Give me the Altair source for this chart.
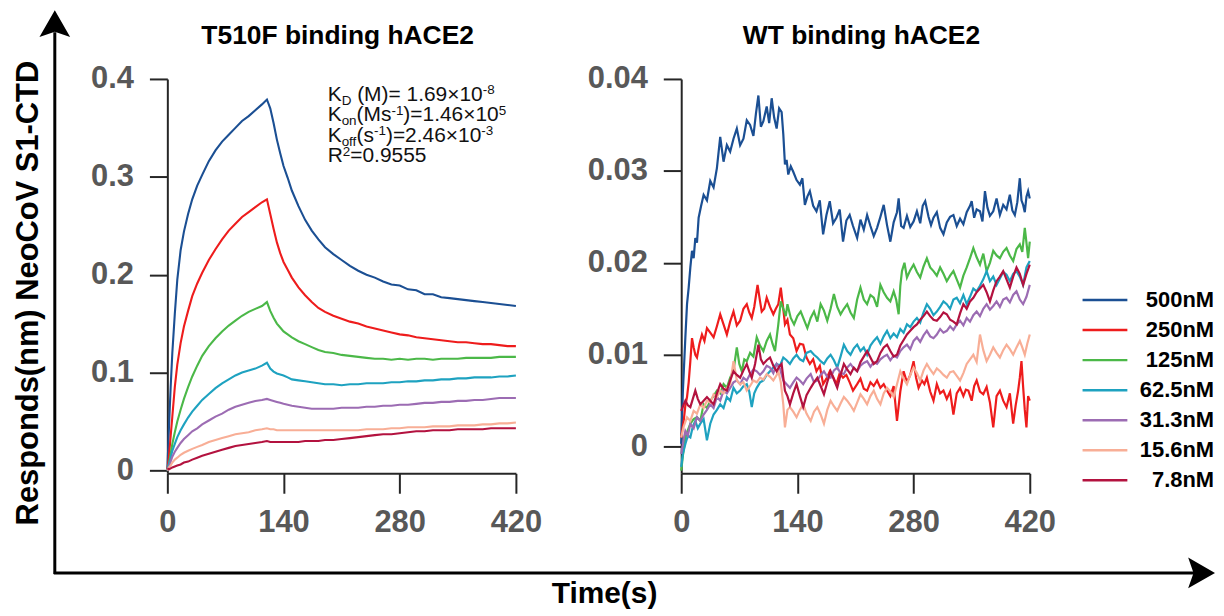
import altair as alt
import pandas as pd

FONT = "Liberation Sans"

# ---------------- data ----------------
SERIES = ["500nM", "250nM", "125nM", "62.5nM", "31.3nM", "15.6nM", "7.8nM"]
COLORS = ["#1b4f93", "#ee1c1c", "#4bb848", "#1ea2c0", "#9c6cb3", "#f8ae96", "#b3123f"]

X_TICKS = [0, 140, 280, 420]
T510F_Y_TICKS = [0, 0.1, 0.2, 0.3, 0.4]
WT_Y_TICKS = [0, 0.01, 0.02, 0.03, 0.04]

T510F_TITLE = "T510F binding hACE2"
WT_TITLE = "WT binding hACE2"
Y_TITLE = "Responds(nm) NeoCoV S1-CTD"
X_TITLE = "Time(s)"

KINETICS = [
    [("K", "base"), ("D", "sub"), (" (M)= 1.69×10", "base"), ("-8", "sup")],
    [("K", "base"), ("on", "sub"), ("(Ms", "base"), ("-1", "sup"), (")=1.46×10", "base"), ("5", "sup")],
    [("K", "base"), ("off", "sub"), ("(s", "base"), ("-1", "sup"), (")=2.46×10", "base"), ("-3", "sup")],
    [("R", "base"), ("2", "sup"), ("=0.9555", "base")],
]

T510F_TIME = [0, 2, 4, 6, 9, 12, 16, 20, 25, 30, 36, 42, 50, 58, 66, 74, 82, 90, 98, 106,
              114, 120, 124, 128, 132, 136, 140, 145, 150, 158, 166, 174, 182, 190, 200, 210, 220, 230, 240, 250,
              260, 270, 280, 290, 300, 310, 320, 330, 340, 350, 360, 370, 380, 390, 400, 410, 420]
T510F_500 = [0, 0.045, 0.085, 0.120, 0.160, 0.195, 0.225, 0.244, 0.262, 0.277,
             0.291, 0.302, 0.316, 0.327, 0.336, 0.343, 0.350, 0.357, 0.362, 0.368,
             0.374, 0.379, 0.370, 0.355, 0.338, 0.324, 0.311, 0.299, 0.286, 0.270,
             0.256, 0.245, 0.236, 0.228, 0.221, 0.215, 0.209, 0.204, 0.200, 0.197,
             0.193, 0.190, 0.189, 0.185, 0.184, 0.180, 0.180, 0.177, 0.176, 0.175,
             0.174, 0.173, 0.172, 0.171, 0.170, 0.169, 0.168]
T510F_250 = [0, 0.015, 0.035, 0.055, 0.085, 0.108, 0.130, 0.147, 0.163, 0.178,
             0.191, 0.202, 0.215, 0.226, 0.236, 0.245, 0.252, 0.259, 0.264, 0.269,
             0.274, 0.277, 0.262, 0.247, 0.233, 0.222, 0.213, 0.205, 0.197, 0.187,
             0.179, 0.172, 0.166, 0.162, 0.158, 0.155, 0.152, 0.150, 0.147, 0.145,
             0.143, 0.141, 0.139, 0.138, 0.136, 0.135, 0.134, 0.133, 0.132, 0.131,
             0.131, 0.130, 0.129, 0.129, 0.128, 0.127, 0.127]
T510F_125 = [0, 0.007, 0.017, 0.027, 0.039, 0.050, 0.062, 0.073, 0.085, 0.096,
             0.107, 0.117, 0.127, 0.135, 0.142, 0.148, 0.153, 0.158, 0.162, 0.165,
             0.168, 0.172, 0.163, 0.156, 0.150, 0.146, 0.142, 0.139, 0.136, 0.132,
             0.129, 0.126, 0.123, 0.121, 0.120, 0.118, 0.117, 0.116, 0.115, 0.114,
             0.114, 0.113, 0.114, 0.113, 0.114, 0.114, 0.113, 0.114, 0.114, 0.114,
             0.115, 0.115, 0.115, 0.115, 0.116, 0.116, 0.116]
T510F_62 = [0, 0.007, 0.013, 0.020, 0.027, 0.034, 0.041, 0.047, 0.054, 0.060,
            0.066, 0.072, 0.078, 0.084, 0.089, 0.093, 0.097, 0.100, 0.102, 0.104,
            0.107, 0.110, 0.104, 0.101, 0.099, 0.098, 0.097, 0.095, 0.093, 0.092,
            0.091, 0.090, 0.089, 0.088, 0.088, 0.087, 0.088, 0.088, 0.089, 0.089,
            0.089, 0.090, 0.090, 0.091, 0.091, 0.092, 0.092, 0.093, 0.093, 0.094,
            0.094, 0.095, 0.095, 0.095, 0.096, 0.096, 0.097]
T510F_31 = [0, 0.004, 0.009, 0.014, 0.019, 0.023, 0.028, 0.032, 0.036, 0.040,
            0.043, 0.047, 0.051, 0.055, 0.058, 0.062, 0.065, 0.067, 0.069, 0.071,
            0.072, 0.073, 0.072, 0.071, 0.070, 0.069, 0.068, 0.067, 0.066, 0.065,
            0.064, 0.063, 0.063, 0.063, 0.063, 0.064, 0.064, 0.064, 0.065, 0.065,
            0.066, 0.066, 0.067, 0.067, 0.068, 0.069, 0.069, 0.070, 0.070, 0.071,
            0.071, 0.072, 0.072, 0.073, 0.074, 0.074, 0.074]
T510F_15 = [0, 0.003, 0.005, 0.008, 0.011, 0.013, 0.016, 0.018, 0.020, 0.022,
            0.024, 0.026, 0.029, 0.031, 0.033, 0.035, 0.037, 0.038, 0.039, 0.041,
            0.042, 0.043, 0.042, 0.042, 0.041, 0.041, 0.041, 0.041, 0.041, 0.041,
            0.041, 0.041, 0.041, 0.041, 0.041, 0.041, 0.041, 0.041, 0.042, 0.042,
            0.042, 0.043, 0.043, 0.044, 0.044, 0.044, 0.045, 0.045, 0.045, 0.046,
            0.046, 0.046, 0.047, 0.047, 0.048, 0.048, 0.049]
T510F_7 = [0.002, 0.001, 0.002, 0.003, 0.004, 0.005, 0.006, 0.008, 0.009, 0.011,
           0.013, 0.015, 0.017, 0.019, 0.021, 0.023, 0.025, 0.026, 0.027, 0.028,
           0.029, 0.030, 0.029, 0.029, 0.029, 0.029, 0.029, 0.029, 0.029, 0.029,
           0.030, 0.030, 0.030, 0.031, 0.031, 0.032, 0.033, 0.034, 0.035, 0.036,
           0.037, 0.037, 0.038, 0.039, 0.040, 0.040, 0.041, 0.041, 0.041, 0.042,
           0.042, 0.042, 0.042, 0.043, 0.043, 0.043, 0.043]

WT_500 = [(0, 0.0003), (2, 0.006), (5, 0.0119), (7, 0.0155), (9, 0.0173), (11, 0.0195), (13, 0.0213),
          (15, 0.0205), (17, 0.0227), (19, 0.0222), (21, 0.0249), (24, 0.0262), (27, 0.0274), (31, 0.0268),
          (35, 0.0289), (39, 0.0282), (43, 0.0303), (47, 0.0337), (51, 0.0310), (55, 0.0328), (59, 0.0321),
          (63, 0.0335), (67, 0.0346), (71, 0.0328), (75, 0.0335), (79, 0.0355), (83, 0.0350), (87, 0.0338),
          (90, 0.0362), (93, 0.0382), (96, 0.0348), (99, 0.0354), (103, 0.0370), (106, 0.0352), (109, 0.0379),
          (112, 0.0358), (115, 0.0346), (118, 0.0368), (121, 0.0364), (123, 0.0340), (125, 0.0307),
          (127, 0.0312), (129, 0.0296), (132, 0.0305), (135, 0.0299), (139, 0.0290), (143, 0.0285),
          (146, 0.0292), (149, 0.0263), (152, 0.0272), (155, 0.0278), (159, 0.0262), (163, 0.0256),
          (167, 0.0268), (171, 0.0231), (175, 0.0252), (179, 0.0267), (183, 0.0243), (187, 0.0249),
          (191, 0.0258), (195, 0.0223), (199, 0.0246), (203, 0.0252), (207, 0.0240), (212, 0.0227),
          (216, 0.0247), (220, 0.0236), (224, 0.0252), (228, 0.0240), (232, 0.0229), (236, 0.0238),
          (240, 0.0250), (244, 0.0263), (248, 0.0241), (252, 0.0223), (256, 0.0244), (260, 0.0255),
          (262, 0.0270), (265, 0.0240), (268, 0.0238), (272, 0.0251), (276, 0.0239), (280, 0.0245),
          (284, 0.0256), (288, 0.0243), (291, 0.0262), (294, 0.0267), (298, 0.0250), (301, 0.0241),
          (304, 0.0249), (308, 0.0255), (312, 0.0238), (316, 0.0231), (320, 0.0244), (324, 0.0250),
          (328, 0.0252), (332, 0.0240), (336, 0.0248), (340, 0.0242), (344, 0.0255), (348, 0.0262),
          (350, 0.0267), (353, 0.0249), (356, 0.0258), (360, 0.0256), (363, 0.0245), (366, 0.0278),
          (369, 0.0260), (372, 0.0251), (376, 0.0256), (380, 0.0270), (384, 0.0252), (388, 0.0263),
          (392, 0.0258), (396, 0.0274), (399, 0.0257), (402, 0.0252), (405, 0.0266), (408, 0.0292),
          (410, 0.0268), (412, 0.0263), (414, 0.0255), (416, 0.0272), (418, 0.0278), (420, 0.0270)]
WT_250 = [(0, 0.0010), (3, 0.0028), (5, 0.0045), (7, 0.0054), (9, 0.0070), (11, 0.0093), (13, 0.0118),
          (15, 0.0108), (17, 0.0100), (19, 0.0097), (22, 0.0112), (25, 0.0122), (28, 0.0115), (31, 0.0129),
          (35, 0.0124), (39, 0.0119), (43, 0.0131), (47, 0.0144), (51, 0.0133), (55, 0.0122), (59, 0.0136),
          (63, 0.0147), (67, 0.0132), (71, 0.0137), (75, 0.0150), (79, 0.0155), (82, 0.0146), (85, 0.0140),
          (88, 0.0152), (92, 0.0176), (95, 0.0158), (97, 0.0147), (100, 0.0150), (103, 0.0162), (107, 0.0152),
          (111, 0.0144), (114, 0.0150), (117, 0.0155), (120, 0.0173), (123, 0.0150), (125, 0.0133),
          (128, 0.0138), (131, 0.0122), (135, 0.0118), (139, 0.0104), (143, 0.0112), (147, 0.0111),
          (151, 0.0097), (155, 0.0090), (159, 0.0095), (163, 0.0082), (167, 0.0088), (171, 0.0068),
          (175, 0.0074), (179, 0.0082), (183, 0.0076), (187, 0.0068), (191, 0.0080), (195, 0.0075),
          (199, 0.0078), (203, 0.0070), (207, 0.0061), (212, 0.0068), (216, 0.0074), (220, 0.0063),
          (224, 0.0061), (228, 0.0070), (232, 0.0066), (236, 0.0072), (240, 0.0064), (244, 0.0068),
          (248, 0.0061), (252, 0.0055), (256, 0.0066), (260, 0.0028), (264, 0.0060), (268, 0.0082),
          (272, 0.0070), (276, 0.0078), (280, 0.0093), (283, 0.0075), (286, 0.0064), (290, 0.0072),
          (293, 0.0068), (296, 0.0075), (300, 0.0060), (304, 0.0050), (308, 0.0068), (312, 0.0058),
          (316, 0.0061), (320, 0.0052), (324, 0.0060), (328, 0.0035), (332, 0.0058), (336, 0.0064),
          (340, 0.0055), (343, 0.0062), (346, 0.0061), (350, 0.0050), (353, 0.0066), (356, 0.0072),
          (360, 0.0060), (364, 0.0057), (368, 0.0065), (372, 0.0048), (376, 0.0021), (380, 0.0055),
          (384, 0.0061), (388, 0.0050), (392, 0.0043), (396, 0.0058), (400, 0.0025), (403, 0.0045),
          (406, 0.0061), (408, 0.0075), (410, 0.0093), (412, 0.0065), (414, 0.0040), (416, 0.0021),
          (418, 0.0055), (420, 0.0050)]
WT_125 = [(0, -0.0026), (2, -0.0010), (5, 0.0010), (8, 0.0018), (11, 0.0025), (15, 0.0030), (19, 0.0032),
          (23, 0.0028), (27, 0.0046), (31, 0.0042), (35, 0.0050), (39, 0.0055), (43, 0.0061), (47, 0.0058),
          (51, 0.0068), (55, 0.0064), (59, 0.0075), (63, 0.0083), (67, 0.0108), (70, 0.0090), (73, 0.0082),
          (76, 0.0095), (79, 0.0093), (83, 0.0102), (87, 0.0098), (91, 0.0119), (95, 0.0110), (99, 0.0104),
          (103, 0.0115), (107, 0.0122), (110, 0.0112), (113, 0.0104), (117, 0.0133), (120, 0.0158),
          (123, 0.0150), (126, 0.0142), (128, 0.0155), (132, 0.0140), (136, 0.0133), (140, 0.0142),
          (144, 0.0147), (148, 0.0138), (152, 0.0129), (156, 0.0140), (160, 0.0147), (164, 0.0136),
          (168, 0.0155), (172, 0.0148), (176, 0.0137), (180, 0.0150), (184, 0.0166), (188, 0.0152),
          (192, 0.0144), (196, 0.0150), (200, 0.0155), (204, 0.0146), (208, 0.0140), (212, 0.0160),
          (216, 0.0173), (220, 0.0160), (224, 0.0155), (228, 0.0165), (232, 0.0162), (236, 0.0152),
          (240, 0.0176), (244, 0.0168), (248, 0.0162), (252, 0.0158), (256, 0.0169), (259, 0.0160),
          (262, 0.0144), (264, 0.0175), (266, 0.0191), (269, 0.0200), (272, 0.0184), (276, 0.0192),
          (280, 0.0198), (284, 0.0190), (288, 0.0184), (292, 0.0196), (296, 0.0205), (300, 0.0195),
          (304, 0.0191), (308, 0.0186), (312, 0.0195), (316, 0.0188), (320, 0.0180), (324, 0.0186),
          (328, 0.0191), (332, 0.0182), (336, 0.0173), (340, 0.0186), (344, 0.0195), (348, 0.0205),
          (352, 0.0216), (356, 0.0206), (360, 0.0198), (364, 0.0210), (368, 0.0191), (372, 0.0200),
          (376, 0.0213), (380, 0.0208), (384, 0.0205), (388, 0.0212), (392, 0.0216), (396, 0.0208),
          (400, 0.0202), (404, 0.0215), (408, 0.0220), (411, 0.0212), (414, 0.0238), (416, 0.0222),
          (418, 0.0205), (420, 0.0223)]
WT_62 = [(0, -0.0022), (2, -0.0008), (5, 0.0003), (8, 0.0012), (11, 0.0010), (14, 0.0022), (17, 0.0028),
         (20, 0.0020), (23, 0.0025), (27, 0.0030), (31, 0.0007), (35, 0.0025), (39, 0.0035), (43, 0.0040),
         (47, 0.0046), (51, 0.0042), (55, 0.0054), (59, 0.0050), (63, 0.0064), (67, 0.0058), (71, 0.0061),
         (75, 0.0066), (79, 0.0068), (82, 0.0060), (85, 0.0043), (88, 0.0058), (91, 0.0064), (95, 0.0070),
         (99, 0.0072), (103, 0.0078), (107, 0.0082), (111, 0.0086), (115, 0.0090), (119, 0.0088),
         (123, 0.0097), (127, 0.0094), (131, 0.0090), (135, 0.0096), (139, 0.0100), (143, 0.0095),
         (147, 0.0093), (151, 0.0102), (156, 0.0104), (160, 0.0100), (164, 0.0097), (168, 0.0093),
         (172, 0.0090), (176, 0.0096), (180, 0.0100), (184, 0.0094), (188, 0.0086), (192, 0.0098),
         (196, 0.0111), (200, 0.0104), (204, 0.0100), (208, 0.0107), (212, 0.0111), (216, 0.0104),
         (220, 0.0108), (224, 0.0100), (228, 0.0110), (232, 0.0115), (236, 0.0119), (240, 0.0112),
         (244, 0.0120), (248, 0.0126), (252, 0.0118), (256, 0.0123), (260, 0.0119), (264, 0.0128),
         (268, 0.0124), (272, 0.0133), (276, 0.0130), (280, 0.0136), (284, 0.0140), (288, 0.0135),
         (292, 0.0146), (296, 0.0155), (300, 0.0150), (304, 0.0143), (308, 0.0147), (312, 0.0152),
         (316, 0.0158), (320, 0.0155), (324, 0.0150), (328, 0.0160), (332, 0.0162), (336, 0.0156),
         (340, 0.0165), (344, 0.0155), (348, 0.0163), (352, 0.0172), (356, 0.0169), (360, 0.0175),
         (364, 0.0182), (368, 0.0191), (372, 0.0180), (376, 0.0185), (380, 0.0176), (384, 0.0183),
         (388, 0.0190), (392, 0.0187), (396, 0.0180), (400, 0.0188), (404, 0.0191), (408, 0.0185),
         (412, 0.0176), (416, 0.0195), (420, 0.0202)]
WT_31 = [(0, -0.0008), (3, 0.0008), (5, 0.0017), (8, 0.0012), (11, 0.0025), (15, 0.0020), (19, 0.0032),
         (23, 0.0028), (27, 0.0035), (31, 0.0040), (35, 0.0046), (39, 0.0042), (43, 0.0054), (47, 0.0050),
         (51, 0.0061), (55, 0.0058), (59, 0.0064), (63, 0.0070), (67, 0.0072), (71, 0.0068), (75, 0.0075),
         (79, 0.0072), (83, 0.0079), (87, 0.0084), (91, 0.0082), (95, 0.0078), (99, 0.0082), (103, 0.0088),
         (107, 0.0086), (111, 0.0080), (115, 0.0090), (119, 0.0085), (123, 0.0072), (127, 0.0068),
         (131, 0.0064), (135, 0.0070), (139, 0.0075), (143, 0.0072), (147, 0.0068), (151, 0.0074),
         (156, 0.0079), (160, 0.0070), (164, 0.0072), (168, 0.0078), (172, 0.0082), (176, 0.0076),
         (180, 0.0075), (184, 0.0083), (188, 0.0086), (192, 0.0080), (196, 0.0079), (200, 0.0086),
         (204, 0.0090), (208, 0.0085), (212, 0.0082), (216, 0.0088), (220, 0.0091), (224, 0.0093),
         (228, 0.0087), (232, 0.0092), (236, 0.0090), (240, 0.0095), (244, 0.0098), (248, 0.0100),
         (252, 0.0094), (256, 0.0099), (260, 0.0097), (264, 0.0104), (268, 0.0108), (272, 0.0111),
         (276, 0.0106), (280, 0.0115), (284, 0.0119), (288, 0.0114), (292, 0.0121), (296, 0.0126),
         (300, 0.0120), (304, 0.0118), (308, 0.0122), (312, 0.0128), (316, 0.0124), (320, 0.0126),
         (324, 0.0131), (328, 0.0127), (332, 0.0133), (336, 0.0137), (340, 0.0132), (344, 0.0140),
         (348, 0.0136), (352, 0.0143), (356, 0.0147), (360, 0.0142), (364, 0.0150), (368, 0.0155),
         (372, 0.0149), (376, 0.0153), (380, 0.0158), (384, 0.0152), (388, 0.0160), (392, 0.0162),
         (396, 0.0157), (400, 0.0165), (404, 0.0169), (408, 0.0160), (412, 0.0155), (416, 0.0163),
         (420, 0.0176)]
WT_15 = [(0, 0.0010), (3, 0.0022), (7, 0.0032), (11, 0.0028), (15, 0.0039), (19, 0.0036), (23, 0.0046),
         (27, 0.0042), (31, 0.0050), (35, 0.0048), (39, 0.0057), (43, 0.0054), (47, 0.0061), (51, 0.0058),
         (55, 0.0064), (59, 0.0068), (63, 0.0093), (67, 0.0072), (71, 0.0068), (75, 0.0070), (79, 0.0061),
         (83, 0.0066), (87, 0.0072), (91, 0.0070), (95, 0.0075), (99, 0.0073), (103, 0.0079), (107, 0.0076),
         (111, 0.0072), (115, 0.0078), (117, 0.0082), (120, 0.0070), (123, 0.0046), (125, 0.0021),
         (128, 0.0040), (131, 0.0043), (135, 0.0038), (139, 0.0032), (143, 0.0040), (147, 0.0046),
         (151, 0.0036), (156, 0.0028), (160, 0.0038), (164, 0.0043), (168, 0.0035), (172, 0.0025),
         (176, 0.0040), (180, 0.0050), (184, 0.0044), (188, 0.0039), (192, 0.0047), (196, 0.0054),
         (200, 0.0050), (204, 0.0045), (208, 0.0039), (212, 0.0048), (216, 0.0057), (220, 0.0052),
         (224, 0.0046), (228, 0.0055), (232, 0.0061), (236, 0.0052), (240, 0.0046), (244, 0.0058),
         (248, 0.0064), (252, 0.0060), (256, 0.0054), (260, 0.0068), (264, 0.0082), (268, 0.0074),
         (272, 0.0068), (276, 0.0078), (280, 0.0086), (284, 0.0080), (288, 0.0072), (292, 0.0083),
         (296, 0.0090), (300, 0.0084), (304, 0.0079), (308, 0.0085), (312, 0.0082), (316, 0.0078),
         (320, 0.0075), (324, 0.0081), (328, 0.0082), (332, 0.0077), (336, 0.0072), (340, 0.0080),
         (344, 0.0090), (348, 0.0095), (352, 0.0100), (356, 0.0092), (360, 0.0122), (364, 0.0105),
         (368, 0.0093), (372, 0.0100), (376, 0.0108), (380, 0.0102), (384, 0.0097), (388, 0.0105),
         (392, 0.0111), (396, 0.0106), (400, 0.0100), (404, 0.0108), (408, 0.0115), (411, 0.0108),
         (414, 0.0100), (417, 0.0112), (420, 0.0122)]
WT_7 = [(0, 0.0039), (3, 0.0046), (5, 0.0050), (8, 0.0045), (11, 0.0043), (14, 0.0052), (17, 0.0061),
        (20, 0.0052), (23, 0.0046), (27, 0.0050), (31, 0.0054), (35, 0.0050), (39, 0.0046), (43, 0.0058),
        (47, 0.0068), (51, 0.0063), (55, 0.0061), (59, 0.0072), (63, 0.0082), (67, 0.0078), (71, 0.0075),
        (75, 0.0083), (79, 0.0090), (82, 0.0082), (85, 0.0075), (89, 0.0090), (93, 0.0111), (96, 0.0095),
        (99, 0.0090), (103, 0.0094), (107, 0.0097), (111, 0.0088), (115, 0.0082), (118, 0.0087),
        (121, 0.0090), (123, 0.0075), (125, 0.0061), (128, 0.0055), (131, 0.0046), (135, 0.0058),
        (139, 0.0068), (143, 0.0055), (147, 0.0043), (151, 0.0056), (156, 0.0064), (160, 0.0070),
        (164, 0.0075), (168, 0.0066), (172, 0.0057), (176, 0.0070), (180, 0.0082), (184, 0.0073),
        (188, 0.0064), (192, 0.0078), (196, 0.0090), (200, 0.0084), (204, 0.0079), (208, 0.0086),
        (212, 0.0082), (216, 0.0092), (220, 0.0098), (224, 0.0104), (228, 0.0097), (232, 0.0090),
        (236, 0.0093), (240, 0.0102), (244, 0.0108), (248, 0.0111), (252, 0.0104), (256, 0.0098),
        (260, 0.0100), (264, 0.0110), (268, 0.0116), (272, 0.0122), (276, 0.0126), (280, 0.0130),
        (284, 0.0133), (288, 0.0138), (292, 0.0142), (296, 0.0147), (300, 0.0142), (304, 0.0138),
        (308, 0.0137), (312, 0.0141), (316, 0.0146), (320, 0.0144), (324, 0.0138), (328, 0.0136),
        (332, 0.0133), (336, 0.0145), (340, 0.0155), (344, 0.0150), (348, 0.0158), (352, 0.0162),
        (356, 0.0168), (360, 0.0172), (364, 0.0176), (368, 0.0168), (372, 0.0158), (376, 0.0170),
        (380, 0.0180), (384, 0.0185), (388, 0.0191), (392, 0.0182), (396, 0.0173), (400, 0.0185),
        (404, 0.0195), (408, 0.0188), (412, 0.0176), (416, 0.0188), (420, 0.0198)]

T510F_SERIES = [T510F_500, T510F_250, T510F_125, T510F_62, T510F_31, T510F_15, T510F_7]
WT_SERIES = [WT_500, WT_250, WT_125, WT_62, WT_31, WT_15, WT_7]
for s in T510F_SERIES:
    assert len(s) == len(T510F_TIME)

# ---------------- layout (page pixels) ----------------
LEFT_X0, TOP = 168, 77          # top-left of the first plot area
PW, PH, GAP = 350, 396, 166
LEG_X0 = LEFT_X0 + 2 * PW + 2 * GAP   # origin of the (narrow) legend panel
LEG_W = 20


def lx(x):  # page x -> legend panel local x
    return x - LEG_X0


def ly(y):  # page y -> legend panel local y
    return y - TOP


AXIS_COLOR = "#262626"
LABEL_COLOR = "#585858"


def x_enc():
    return alt.X("t:Q", scale=alt.Scale(domain=[0, 420], nice=False, zero=False),
                 axis=alt.Axis(values=X_TICKS, title=None, format="d", grid=False,
                               labelFont=FONT, labelFontWeight="bold", labelFontSize=31,
                               labelColor=LABEL_COLOR, labelPadding=14, labelFlush=False,
                               labelOverlap=False, tickSize=20, tickWidth=2, tickColor=AXIS_COLOR,
                               domainColor=AXIS_COLOR, domainWidth=2))


def y_enc(domain, ticks):
    return alt.Y("v:Q", scale=alt.Scale(domain=domain, nice=False, zero=False),
                 axis=alt.Axis(values=ticks, title=None, format="~g", grid=False,
                               labelFont=FONT, labelFontWeight="bold", labelFontSize=31,
                               labelColor=LABEL_COLOR, labelPadding=16, labelFlush=False,
                               labelOverlap=False, tickSize=18, tickWidth=2, tickColor=AXIS_COLOR,
                               domainColor=AXIS_COLOR, domainWidth=2))


def panel_title(text, dx):
    return alt.TitleParams(text=text, font=FONT, fontSize=26.5, fontWeight="bold", color="black",
                           anchor="middle", frame="group", baseline="alphabetic", offset=-7.5, dx=dx)


# ---------------- left panel: T510F ----------------
T510F_DOMAIN = [-0.003, 0.4]
left_layers = []
for vals, col in zip(T510F_SERIES, COLORS):
    df = pd.DataFrame({"t": T510F_TIME, "v": vals})
    left_layers.append(alt.Chart(df).mark_line(color=col, strokeWidth=2.1).encode(
        x=x_enc(), y=y_enc(T510F_DOMAIN, T510F_Y_TICKS)))

ARIAL = {**{d: 556 for d in "0123456789"}, "K": 667, "D": 722, "R": 722, "M": 833, "s": 500,
         "o": 556, "n": 556, "f": 278, "(": 333, ")": 333, " ": 278, "=": 584, ".": 278,
         "×": 584, "-": 333}


def text_w(s, fs):
    return sum(ARIAL[c] for c in s) * fs / 1000.0


KIN_T, KIN_V = 193.2, 0.3776     # anchor of the first baseline (data units)
KIN_FS, KIN_SMALL, KIN_LEAD = 21, 13.5, 20.6
for i, line in enumerate(KINETICS):
    xoff = 0.0
    for piece, kind in line:
        fs = KIN_FS if kind == "base" else KIN_SMALL
        lead = len(piece) - len(piece.lstrip(" "))
        xoff += text_w(" " * lead, fs)      # SVG collapses leading spaces
        piece = piece.lstrip(" ")
        dy = i * KIN_LEAD + (4.0 if kind == "sub" else (-6.5 if kind == "sup" else 0))
        left_layers.append(
            alt.Chart(pd.DataFrame({"txt": [piece]})).mark_text(
                align="left", baseline="alphabetic", font=FONT, fontSize=fs, color="#111111",
                dx=xoff, dy=dy).encode(x=alt.datum(KIN_T), y=alt.datum(KIN_V), text="txt:N"))
        xoff += text_w(piece, fs)

left = alt.layer(*left_layers).properties(width=PW, height=PH, title=panel_title(T510F_TITLE, -4))

# ---------------- right panel: WT ----------------
WT_DOMAIN = [-0.0029, 0.04]
right_layers = []
for pairs, col in zip(WT_SERIES, COLORS):
    df = pd.DataFrame(pairs, columns=["t", "v"])
    right_layers.append(alt.Chart(df).mark_line(color=col, strokeWidth=2.2).encode(
        x=x_enc(), y=y_enc(WT_DOMAIN, WT_Y_TICKS)))
right = alt.layer(*right_layers).properties(width=PW, height=PH, title=panel_title(WT_TITLE, 6))

# ---------------- legend + figure-level decorations ----------------
leg_df = pd.DataFrame({"series": SERIES})
leg_y = alt.Y("series:N", scale=alt.Scale(type="point", domain=SERIES, range=[ly(299), ly(480)], padding=0),
              axis=None)
leg_color = alt.Color("series:N", scale=alt.Scale(domain=SERIES, range=COLORS), legend=None)
leg_rules = alt.Chart(leg_df).mark_rule(strokeWidth=2.5).encode(
    x=alt.value(lx(1087)), x2=alt.value(lx(1132)), y=leg_y, color=leg_color)
leg_text = alt.Chart(leg_df).mark_text(align="right", baseline="middle", font=FONT, fontSize=22,
                                       fontWeight="bold", color="black").encode(
    x=alt.value(lx(1219)), y=leg_y, text="series:N")

one = pd.DataFrame({"k": [0]})
anchor = alt.Chart(one).mark_point(size=1, opacity=0).encode(x=alt.value(lx(8.5)), y=alt.value(ly(8.5)))
v_arrow = alt.Chart(one).mark_rule(strokeWidth=3, color="black").encode(
    x=alt.value(lx(55)), y=alt.value(ly(574)), y2=alt.value(ly(30)))
h_arrow = alt.Chart(one).mark_rule(strokeWidth=3, color="black").encode(
    x=alt.value(lx(54)), x2=alt.value(lx(1200)), y=alt.value(ly(573)))
UP_HEAD = "M0,-1L1,0.75L0,0.4L-1,0.75Z"
RIGHT_HEAD = "M1,0L-0.75,1L-0.4,0L-0.75,-1Z"
up_head = alt.Chart(one).mark_point(shape=UP_HEAD, filled=True, size=950, color="black", opacity=1).encode(
    x=alt.value(lx(55)), y=alt.value(ly(23.4)))
right_head = alt.Chart(one).mark_point(shape=RIGHT_HEAD, filled=True, size=950, color="black",
                                       opacity=1).encode(x=alt.value(lx(1204.6)), y=alt.value(ly(573)))
y_title = alt.Chart(one).mark_text(angle=270, align="center", baseline="alphabetic", font=FONT,
                                   fontSize=31, fontWeight="bold", color="black").encode(
    x=alt.value(lx(38)), y=alt.value(ly(292)), text=alt.value(Y_TITLE))
x_title = alt.Chart(one).mark_text(align="center", baseline="alphabetic", font=FONT,
                                   fontSize=30, fontWeight="bold", color="black").encode(
    x=alt.value(lx(607)), y=alt.value(ly(603)), text=alt.value(X_TITLE))

legend_panel = alt.layer(anchor, v_arrow, h_arrow, up_head, right_head, y_title, x_title,
                         leg_rules, leg_text).properties(width=LEG_W, height=PH)

chart = alt.hconcat(left, right, legend_panel, spacing=GAP, bounds="flush").properties(
    padding=0, background="white"
).configure(font=FONT).configure_view(stroke=None)

chart.save("out.html", embed_options={"renderer": "svg", "actions": False})
